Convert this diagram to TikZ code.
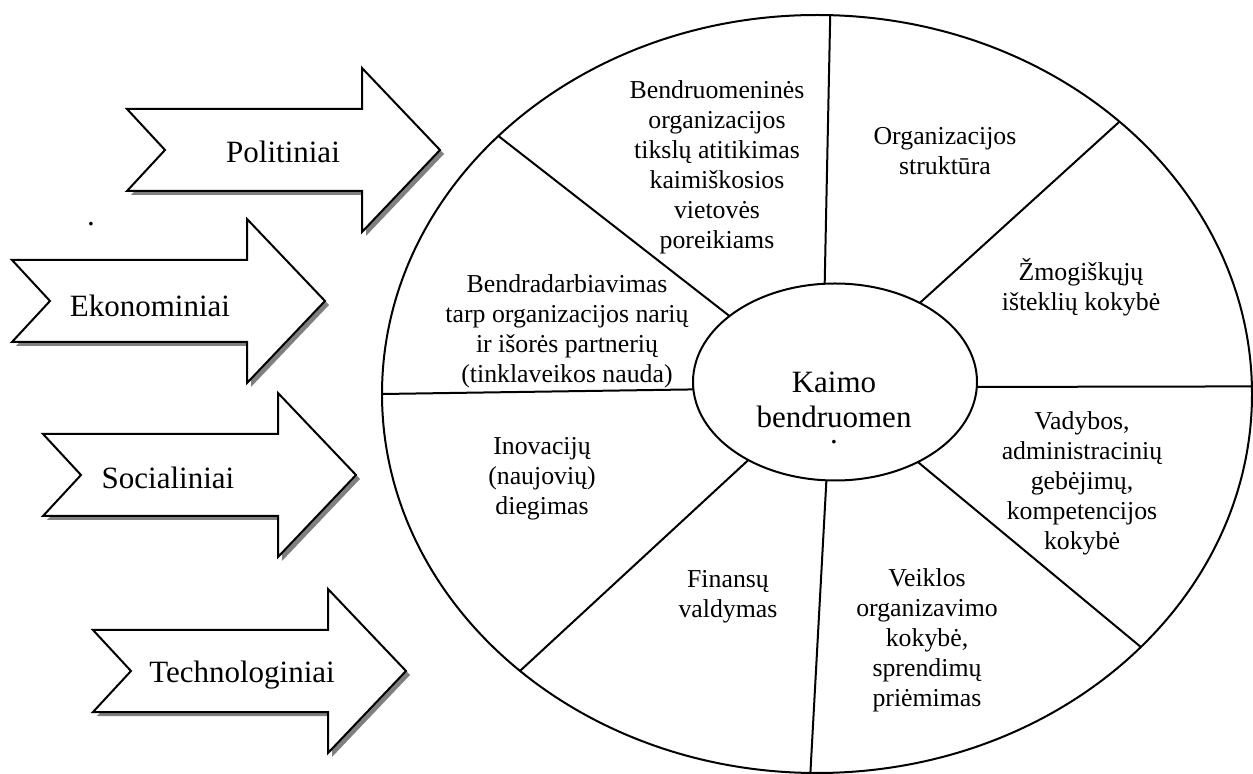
\documentclass[tikz,border=0pt]{standalone}
\usepackage{fontspec}
\setmainfont{Liberation Serif}
\usetikzlibrary{shapes.geometric}
\tikzset{
  ring/.style={draw, ellipse, inner sep=0pt, outer sep=0pt},
  part/.style={align=center, inner sep=0pt, font=\fontsize{12.9}{15}\selectfont},
  force/.style={inner sep=0pt, font=\fontsize{15.5}{17.5}\selectfont},
}
\begin{document}
\begin{tikzpicture}[x=0.5pt, y=-0.5pt, line width=1pt]
	\useasboundingbox (0,0) rectangle (1253,774);
	% outside factors
	\foreach \tx/\cy/\name/\lx/\ly/\txt in {127/150/pol/283/152/Politiniai,
		12/301/eko/150/306/Ekonominiai, 43/475/soc/168/478/Socialiniai,
		93/671/tech/242/675/Technologiniai}{
		\fill[gray, shift={(\tx+4,\cy+4)}] (0,-41) -- (235,-41) -- (235,-82) -- (313,0)
			-- (235,82) -- (235,41) -- (0,41) -- (38,0) -- cycle;
		\filldraw[fill=white, shift={(\tx,\cy)}] (0,-41) -- (235,-41) -- (235,-82) -- (313,0)
			-- (235,82) -- (235,41) -- (0,41) -- (38,0) -- cycle;
		\node[force] (\name) at (\lx,\ly) {\txt};
	}
	\node[force, anchor=base] (dot) at (91,226) {.};
	% wheel
	\node[ring, minimum width=435pt, minimum height=379pt] (wheel) at (817,394) {};
	\node[ring, minimum width=142pt, minimum height=98.5pt] (core) at (835,382) {};
	\node[force, align=center] (corelabel) at (834,400) {Kaimo\\bendruomen};
	\node[force, anchor=base] (coredot) at (834,444) {.};
	\foreach \a/\b in {96/88, 43/42, 148/141, 183/180, 358/1, 316/322, 265/269, 222/223}
		\draw (core.\a) -- (wheel.\b);
	% segments
	\node[part] (goals) at (717,167) {Bendruomeninės\\organizacijos\\tikslų atitikimas\\kaimiškosios\\vietovės\\poreikiams};
	\node[part] (structure) at (945,151) {Organizacijos\\struktūra};
	\node[part] (people) at (1081,287) {Žmogiškųjų\\išteklių kokybė};
	\node[part] (management) at (1082,483) {Vadybos,\\administracinių\\gebėjimų,\\kompetencijos\\kokybė};
	\node[part] (activity) at (927,640) {Veiklos\\organizavimo\\kokybė,\\sprendimų\\priėmimas};
	\node[part] (finance) at (728,597) {Finansų\\valdymas};
	\node[part] (innovation) at (542,479) {Inovacijų\\(naujovių)\\diegimas};
	\node[part] (cooperation) at (567,331) {Bendradarbiavimas\\tarp organizacijos narių\\ir išorės partnerių\\(tinklaveikos nauda)};
\end{tikzpicture}
\end{document}
